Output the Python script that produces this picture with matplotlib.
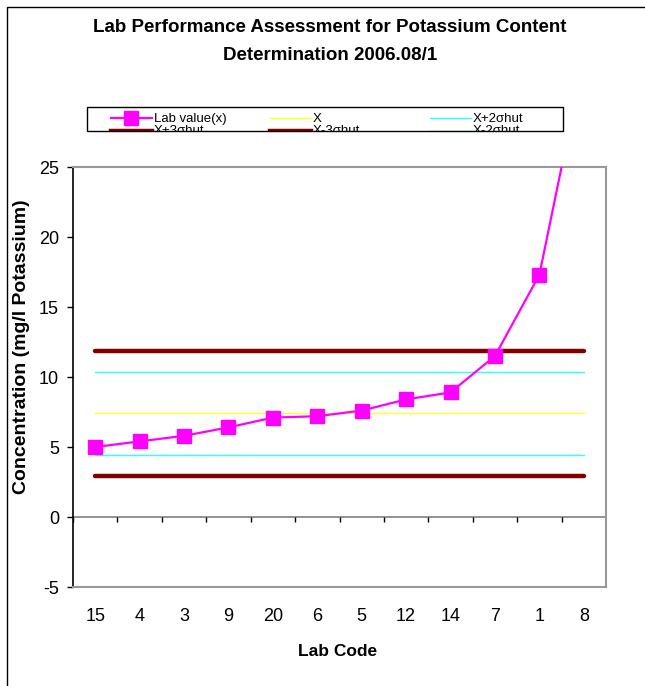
import matplotlib
matplotlib.use("Agg")
import matplotlib.pyplot as plt
from matplotlib.lines import Line2D
from matplotlib.patches import Rectangle
import numpy as np

plt.rcParams['font.family'] = ['Liberation Sans', 'DejaVu Sans']
plt.rcParams['axes.unicode_minus'] = False

lab_codes = ["15", "4", "3", "9", "20", "6", "5", "12", "14", "7", "1", "8"]
lab_values = [5.0, 5.4, 5.8, 6.4, 7.1, 7.2, 7.6, 8.4, 8.9, 11.5, 17.3, 32.7]
x_mean = 7.43
x_plus2 = 10.36
x_minus2 = 4.43
x_plus3 = 11.86
x_minus3 = 2.93

W, H = 645, 686
fig = plt.figure(figsize=(W/100, H/100), dpi=100)
ax = fig.add_axes([73/W, 1-587/H, (606-73)/W, (587-167)/H])

n = len(lab_codes)
xs = np.arange(n)

RED = '#800000'
CYAN = '#33FFFF'
YELLOW = '#FFFF33'
MAG = '#FF00FF'

ax.plot([xs[0], xs[-1]], [x_plus3]*2, color=RED, lw=3.2, solid_capstyle='round', zorder=2)
ax.plot([xs[0], xs[-1]], [x_minus3]*2, color=RED, lw=3.2, solid_capstyle='round', zorder=2)
ax.plot([xs[0], xs[-1]], [x_plus2]*2, color=CYAN, lw=1.0, zorder=2)
ax.plot([xs[0], xs[-1]], [x_minus2]*2, color=CYAN, lw=1.0, zorder=2)
ax.plot([xs[0], xs[-1]], [x_mean]*2, color=YELLOW, lw=1.0, zorder=2)
ax.plot(xs, lab_values, color=MAG, lw=1.6, marker='s', markersize=9.5,
        markerfacecolor=MAG, markeredgecolor=MAG, zorder=3)

ax.set_xlim(-0.5, n-0.5)
ax.set_ylim(-5, 25)
ax.set_yticks([-5, 0, 5, 10, 15, 20, 25])
ax.set_xticks(xs)
ax.set_xticklabels(lab_codes)
ax.tick_params(axis='x', length=0, pad=15, labelsize=13)
ax.tick_params(axis='y', length=4, pad=6, labelsize=13, direction='out', width=1)

# zero line with category-boundary ticks
ax.axhline(0, color='#808080', lw=1.2, zorder=1)
ax.vlines(np.arange(n+1)-0.5, -0.35, 0, color='black', lw=1.0, zorder=1)

for s in ['top', 'right', 'bottom']:
    ax.spines[s].set_color('#999999')
    ax.spines[s].set_linewidth(1.5)
ax.spines['left'].set_color('black')
ax.spines['left'].set_linewidth(1.2)

fig.text(330/W, 1-28/H, "Lab Performance Assessment for Potassium Content",
         ha='center', va='center', fontsize=13.5, fontweight='bold')
fig.text(330/W, 1-55/H, "Determination 2006.08/1",
         ha='center', va='center', fontsize=13.5, fontweight='bold')
fig.text(22/W, 1-347/H, "Concentration (mg/l Potassium)", rotation=90,
         ha='center', va='center', fontsize=14, fontweight='bold')
fig.text(338/W, 1-651/H, "Lab Code", ha='center', va='center',
         fontsize=12.5, fontweight='bold')

# Legend (box is cut off at the bottom, as in the original)
legend_labels = ["Lab value(x)", "X", "X+2σhut", "X+3σhut", "X-3σhut", "X-2σhut"]
legend_styles = [
    dict(color=MAG, lw=1.6, marker='s', markersize=9.5, markevery=[1]),
    dict(color=YELLOW, lw=1.0),
    dict(color=CYAN, lw=1.0),
    dict(color=RED, lw=3.2),
    dict(color=RED, lw=3.2),
    dict(color=CYAN, lw=1.0),
]
box = Rectangle((87/W, 1-131/H), (563-87)/W, (131-107)/H, transform=fig.transFigure,
                facecolor='white', edgecolor='none', zorder=5)
fig.add_artist(box)
col_x = [111, 270, 430]
row_y = [118, 130.5]
for i, (lab, st) in enumerate(zip(legend_labels, legend_styles)):
    r, c = divmod(i, 3)
    x0 = col_x[c]
    y = row_y[r]
    ln = Line2D([x0/W, (x0+20)/W, (x0+41)/W], [1-y/H]*3, transform=fig.transFigure,
                zorder=6, **st)
    ln.set_clip_path(box)
    fig.add_artist(ln)
    t = fig.text((x0+43)/W, 1-(y+1)/H, lab, ha='left', va='center', fontsize=9.5, zorder=6)
    t.set_clip_path(box)
fig.add_artist(Rectangle((87/W, 1-131/H), (563-87)/W, (131-107)/H, transform=fig.transFigure,
                         fill=False, edgecolor='black', lw=1.0, zorder=7))

# outer frame
fig.add_artist(Rectangle((7/W, -0.1), 1.2, 1-7/H+0.1, transform=fig.transFigure,
                         fill=False, edgecolor='black', lw=1.0, zorder=12))

fig.savefig("out.png", dpi=100)
